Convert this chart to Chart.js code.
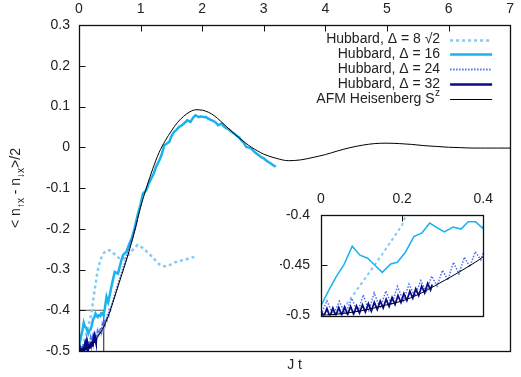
<!DOCTYPE html>
<html>
<head>
<meta charset="utf-8">
<script src="https://cdn.jsdelivr.net/npm/chart.js@4.4.1/dist/chart.umd.min.js"></script>
<style>
  html, body { margin: 0; padding: 0; background: #fff; }
  #wrap { position: relative; width: 521px; height: 377px; }
  #main { position: absolute; left: 0; top: 0; }
  #inset { position: absolute; left: 280px; top: 190px; }
</style>
</head>
<body>
<div id="wrap">
  <canvas id="main" width="521" height="377"></canvas>
  <canvas id="inset" width="220" height="145"></canvas>
</div>
<script>
// data (J t, value)
const d8T = [0, 0.03, 0.05, 0.1, 0.15, 0.2, 0.25, 0.3, 0.35, 0.4, 0.45, 0.5, 0.55, 0.6, 0.65, 0.7, 0.75, 0.8, 0.85, 0.9, 0.95, 1.0,
  1.05, 1.1, 1.15, 1.2, 1.25, 1.3, 1.35, 1.4, 1.45, 1.5, 1.55, 1.6, 1.7, 1.8, 1.9];
const d8V = [-0.5, -0.4995, -0.496, -0.468, -0.4395, -0.41, -0.355, -0.305, -0.275, -0.26, -0.253, -0.253, -0.258, -0.267, -0.272, -0.274, -0.272, -0.265, -0.256, -0.247, -0.24, -0.243,
  -0.249, -0.256, -0.263, -0.271, -0.279, -0.287, -0.291, -0.292, -0.291, -0.287, -0.283, -0.28, -0.277, -0.272, -0.268];

const d16T = [0, 0.019, 0.038, 0.057, 0.077, 0.096, 0.115, 0.133, 0.151, 0.172, 0.188, 0.208, 0.229, 0.249, 0.268, 0.286, 0.304, 0.326, 0.345, 0.363, 0.381, 0.398,
  0.42, 0.447, 0.474, 0.5, 0.527, 0.58, 0.634, 0.68, 0.714, 0.767, 0.82, 0.86, 0.9, 0.958, 1.0, 1.038, 1.091, 1.13, 1.171, 1.21, 1.251, 1.305, 1.34, 1.385,
  1.465, 1.5, 1.544, 1.58, 1.624, 1.66, 1.704, 1.757, 1.81, 1.85, 1.89, 1.944, 1.98, 2.02, 2.06, 2.1, 2.157, 2.21, 2.26, 2.316, 2.36, 2.396, 2.44, 2.476,
  2.516, 2.556, 2.6, 2.636, 2.68, 2.716, 2.756, 2.796, 2.84, 2.875, 2.915, 2.955, 3.0, 3.035, 3.075, 3.115, 3.155, 3.195];
const d16V = [-0.49, -0.475, -0.461, -0.449, -0.431, -0.44, -0.443, -0.45, -0.457, -0.4487, -0.447, -0.437, -0.4215, -0.4177, -0.408, -0.4125, -0.4168, -0.412, -0.414, -0.4068, -0.4068, -0.413,
  -0.395, -0.367, -0.38, -0.362, -0.342, -0.306, -0.31, -0.282, -0.265, -0.257, -0.236, -0.222, -0.2, -0.163, -0.14, -0.114, -0.106, -0.09, -0.077, -0.066, -0.048, -0.032, -0.019, 0.005,
  0.013, 0.027, 0.038, 0.042, 0.05, 0.053, 0.058, 0.066, 0.062, 0.072, 0.0785, 0.074, 0.076, 0.074, 0.074, 0.07, 0.066, 0.062, 0.054, 0.058, 0.05, 0.046, 0.043, 0.038,
  0.034, 0.029, 0.024, 0.017, 0.01, 0.001, -0.001, -0.003, -0.01, -0.015, -0.019, -0.024, -0.027, -0.032, -0.036, -0.04, -0.044, -0.048];

const d24T = [0, 0.0146, 0.03, 0.0452, 0.06, 0.0759, 0.09, 0.1042, 0.118, 0.131, 0.146, 0.16, 0.174, 0.1885, 0.203, 0.2169, 0.231, 0.246, 0.259, 0.2728,
  0.286, 0.2996, 0.313, 0.3264, 0.34, 0.3533, 0.367, 0.3801, 0.394, 0.407, 0.42, 0.435, 0.45, 0.465, 0.48, 0.495, 0.51, 0.55, 0.6, 0.65, 0.7, 0.75, 0.8, 0.85, 0.9, 0.95];
const d24V = [-0.499, -0.4852, -0.4995, -0.4858, -0.4985, -0.4829, -0.497, -0.4794, -0.4948, -0.4776, -0.4925, -0.4755, -0.4893, -0.4711, -0.4852, -0.4688, -0.4808, -0.4652, -0.4758, -0.4608,
  -0.4705, -0.4549, -0.4647, -0.447, -0.4585, -0.442, -0.4515, -0.4365, -0.4445, -0.43, -0.435, -0.421, -0.424, -0.408, -0.412, -0.395, -0.399, -0.378, -0.353, -0.329, -0.305, -0.281, -0.256, -0.231, -0.204, -0.176];

const d32T = [0, 0.0073, 0.0146, 0.0219, 0.0292, 0.0365, 0.0438, 0.0511, 0.0584, 0.0657, 0.073, 0.0803, 0.0876, 0.0949, 0.1022, 0.1095, 0.1168, 0.1241, 0.1314, 0.1387,
  0.146, 0.1533, 0.1606, 0.1679, 0.1752, 0.1825, 0.1898, 0.1971, 0.2044, 0.2117, 0.219, 0.2263, 0.2336, 0.2409, 0.2482, 0.2555, 0.2628, 0.2701, 0.274];
const d32V = [-0.496, -0.5005, -0.493, -0.501, -0.4925, -0.5, -0.492, -0.4995, -0.4915, -0.499, -0.491, -0.4985, -0.4905, -0.4975, -0.4895, -0.4965, -0.488, -0.4955, -0.4868, -0.494,
  -0.4855, -0.4925, -0.4838, -0.4908, -0.482, -0.489, -0.48, -0.487, -0.478, -0.485, -0.4758, -0.4826, -0.4734, -0.48, -0.4708, -0.4775, -0.468, -0.4745, -0.469];

const afmT = [0, 0.04, 0.08, 0.12, 0.16, 0.2, 0.24, 0.28, 0.32, 0.36, 0.4, 0.45, 0.5, 0.6, 0.7, 0.8, 0.9, 1.0, 1.1, 1.2, 1.3, 1.4, 1.5, 1.6, 1.7, 1.8, 1.9,
  2.0, 2.1, 2.2, 2.3, 2.4, 2.5, 2.6, 2.7, 2.8, 2.9, 3.0, 3.2, 3.4, 3.6, 3.8, 4.0, 4.2, 4.4, 4.6, 4.8, 5.0, 5.2, 5.4, 5.6, 5.8, 6.0, 6.2, 6.4, 6.6, 6.8, 7.0];
const afmV = [-0.5, -0.4985, -0.4965, -0.4935, -0.4895, -0.4855, -0.479, -0.4705, -0.4615, -0.452, -0.4415, -0.424, -0.404, -0.357, -0.31, -0.262, -0.208, -0.147, -0.097, -0.052, -0.013, 0.016, 0.04, 0.061, 0.076, 0.087, 0.092,
  0.091, 0.086, 0.077, 0.064, 0.05, 0.036, 0.023, 0.011, 0.0, -0.009, -0.017, -0.027, -0.033, -0.031, -0.025, -0.018, -0.009, -0.001, 0.005, 0.009, 0.01, 0.009, 0.007, 0.004, 0.002, 0.0, -0.001, -0.002, -0.002, -0.002, -0.002];

const legendText = ['Hubbard, \u0394 = 8 \u221A2', 'Hubbard, \u0394 = 16', 'Hubbard, \u0394 = 24', 'Hubbard, \u0394 = 32', 'AFM Heisenberg S'];
const legendSup = ['', '', '', '', 'z'];
const yTitleParts = [['< n', false], ['\u2191x', true], [' - n', false], ['\u2193x', true], ['>/2', false]];
const xTitle = 'J t';

// main axes and the zoomed window shown in the inset
const mainX = [0, 7];
const mainY = [-0.5, 0.3];
const zoomX = [0, 0.4];
const zoomY = [-0.5, -0.4];

const FONT = "'Liberation Sans', Arial, Helvetica, sans-serif";
const TXT = '#222';
const tickFont = { family: FONT, size: 14 };

function fmt(v) {
  const r = Math.round(v * 1000) / 1000;
  return r === 0 ? '0' : String(r);
}

const pts = (t, v) => t.map((x, i) => ({ x: x, y: v[i] }));

function makeDatasets(inset) {
  return [
    { label: legendText[0], data: pts(d8T, d8V), borderColor: '#86c8f6', borderWidth: inset ? 2 : 2.5, borderDash: [3, 3], order: 5 },
    { label: legendText[1], data: pts(d16T, d16V), borderColor: '#17b3ef', borderWidth: inset ? 1.5 : 2.5, order: 4 },
    { label: legendText[2], data: pts(d24T, d24V), borderColor: '#4d70f0', borderWidth: inset ? 1.5 : 2, borderDash: [1.5, 1.5], order: 3 },
    { label: legendText[3], data: pts(d32T, d32V), borderColor: '#0a0a8a', borderWidth: inset ? 1.8 : 2.5, order: 2 },
    { label: legendText[4], data: pts(afmT, afmV), borderColor: '#000', borderWidth: 1, order: 1, cubicInterpolationMode: 'monotone' }
  ];
}

const framePlugin = {
  id: 'frame',
  afterDraw(chart) {
    const { ctx, chartArea: a } = chart;
    const L = Math.round(a.left) + 0.5, R = Math.round(a.right) + 0.5;
    const T = Math.round(a.top) + 0.5, B = Math.round(a.bottom) + 0.5;
    ctx.save();
    ctx.strokeStyle = '#111';
    ctx.lineWidth = 1.3;
    ctx.strokeRect(L, T, R - L, B - T);
    ctx.lineWidth = 1;
    ctx.beginPath();
    const xs = chart.scales.x, ys = chart.scales.y;
    xs.ticks.forEach(tk => {
      const p = Math.round(xs.getPixelForValue(tk.value)) + 0.5;
      if (p > L + 1 && p < R - 1) { ctx.moveTo(p, T); ctx.lineTo(p, T + 6); }
    });
    ys.ticks.forEach(tk => {
      const p = Math.round(ys.getPixelForValue(tk.value)) + 0.5;
      if (p > T + 1 && p < B - 1) { ctx.moveTo(L, p); ctx.lineTo(L + 6, p); }
    });
    ctx.stroke();
    ctx.restore();
  }
};

const keyPlugin = {
  id: 'key',
  afterDraw(chart) {
    const { ctx, chartArea: a } = chart;
    const textRight = a.right - 70, s0 = a.right - 60, s1 = a.right - 18;
    ctx.save();
    ctx.textBaseline = 'middle';
    ctx.fillStyle = TXT;
    chart.data.datasets.forEach(ds => {
      const i = legendText.indexOf(ds.label);
      if (i < 0) return;
      const y = 39.5 + i * 14.8;
      let right = textRight;
      ctx.textAlign = 'right';
      if (legendSup[i]) {
        ctx.font = '10px ' + FONT;
        ctx.fillText(legendSup[i], right, y - 5);
        right -= ctx.measureText(legendSup[i]).width + 0.5;
      }
      ctx.font = '14px ' + FONT;
      ctx.fillText(ds.label, right, y);
      ctx.beginPath();
      ctx.strokeStyle = ds.borderColor;
      ctx.lineWidth = ds.borderWidth;
      ctx.setLineDash(ds.borderDash || []);
      ctx.moveTo(s0, Math.round(y) + 0.5);
      ctx.lineTo(s1, Math.round(y) + 0.5);
      ctx.stroke();
      ctx.setLineDash([]);
    });
    ctx.restore();
  }
};

const yTitlePlugin = {
  id: 'yTitle',
  afterDraw(chart) {
    const ctx = chart.ctx, a = chart.chartArea;
    const big = '14px ' + FONT, small = '10px ' + FONT;
    ctx.save();
    ctx.translate(15, (a.top + a.bottom) / 2);
    ctx.rotate(-Math.PI / 2);
    ctx.fillStyle = TXT;
    ctx.textBaseline = 'alphabetic';
    ctx.textAlign = 'left';
    let w = 0;
    yTitleParts.forEach(p => { ctx.font = p[1] ? small : big; w += ctx.measureText(p[0]).width; });
    let x = -w / 2;
    yTitleParts.forEach(p => {
      ctx.font = p[1] ? small : big;
      ctx.fillText(p[0], x, p[1] ? 9 : 5);
      x += ctx.measureText(p[0]).width;
    });
    ctx.restore();
  }
};

const common = {
  responsive: false,
  animation: false,
  devicePixelRatio: 1,
  parsing: true,
  elements: { point: { radius: 0 }, line: { tension: 0 } },
  plugins: { legend: { display: false }, tooltip: { enabled: false } }
};

const mainSets = makeDatasets(false);
mainSets.push({
  label: 'zoom',
  data: [{ x: zoomX[0], y: zoomY[1] }, { x: zoomX[1], y: zoomY[1] }, { x: zoomX[1], y: zoomY[0] }],
  borderColor: '#555', borderWidth: 1, order: 6
});

new Chart(document.getElementById('main'), {
  type: 'line',
  data: { datasets: mainSets },
  options: Object.assign({}, common, {
    layout: { padding: { left: 0, right: 3, top: 0, bottom: 0 } },
    scales: {
      x: {
        type: 'linear', position: 'top', min: mainX[0], max: mainX[1],
        ticks: { stepSize: 1, padding: 7, font: tickFont, color: TXT, callback: fmt },
        grid: { display: false, drawTicks: false }, border: { display: false },
        afterFit: s => { s.height = 25; }
      },
      xb: {
        type: 'linear', position: 'bottom', min: mainX[0], max: mainX[1],
        ticks: { display: false },
        grid: { display: false, drawTicks: false }, border: { display: false },
        title: { display: true, text: xTitle, font: tickFont, color: TXT, padding: { top: 0, bottom: 3 } },
        afterFit: s => { s.height = 26; }
      },
      y: {
        type: 'linear', min: mainY[0], max: mainY[1],
        ticks: { stepSize: 0.1, padding: 9, font: tickFont, color: TXT, callback: fmt },
        grid: { display: false, drawTicks: false }, border: { display: false },
        afterFit: s => { s.width = 79; }
      }
    }
  }),
  plugins: [framePlugin, keyPlugin, yTitlePlugin]
});

new Chart(document.getElementById('inset'), {
  type: 'line',
  data: { datasets: makeDatasets(true) },
  options: Object.assign({}, common, {
    layout: { padding: { left: 0, right: 5, top: 0, bottom: 7 } },
    scales: {
      x: {
        type: 'linear', position: 'top', min: zoomX[0], max: zoomX[1],
        ticks: { stepSize: 0.2, padding: 7, font: tickFont, color: TXT, callback: fmt },
        grid: { display: false, drawTicks: false }, border: { display: false },
        afterFit: s => { s.height = 25; }
      },
      y: {
        type: 'linear', min: zoomY[0], max: zoomY[1],
        ticks: { stepSize: 0.05, padding: 11, font: tickFont, color: TXT, callback: fmt },
        grid: { display: false, drawTicks: false }, border: { display: false },
        afterFit: s => { s.width = 41; }
      }
    }
  }),
  plugins: [framePlugin]
});
</script>
</body>
</html>
